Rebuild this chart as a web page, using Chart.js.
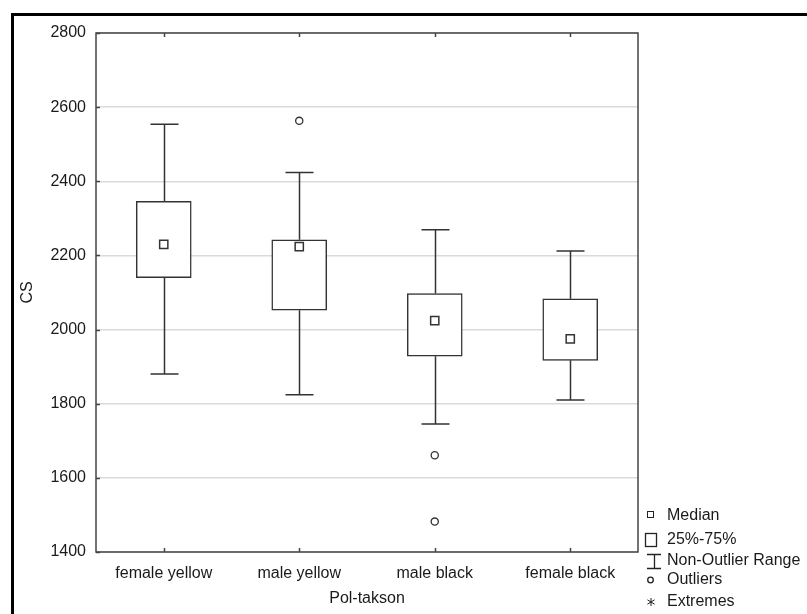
<!DOCTYPE html>
<html>
<head>
<meta charset="utf-8">
<script src="https://cdn.jsdelivr.net/npm/chart.js@4"></script>
<style>
  html, body { margin: 0; padding: 0; background: #fff; }
  #wrap { width: 807px; height: 614px; position: relative; overflow: hidden; }
</style>
</head>
<body>
<div id="wrap"><canvas id="c" width="807" height="614"></canvas></div>
<script>
// Box plot of CS by sex/taxon group
const categories = ['female yellow', 'male yellow', 'male black', 'female black'];
const q1 = [2140, 2052, 1928, 1917];
const q3 = [2346, 2242, 2097, 2083];
const medians = [2230, 2224, 2024, 1975];
const whiskerLow = [1880, 1824, 1745, 1810];
const whiskerHigh = [2554, 2424, 2269, 2212];
const outlierGroups = [[], [2563], [1661, 1482], []];
const yMin = 1400, yMax = 2800, yStep = 200;
const legendLabels = ['Median', '25%-75%', 'Non-Outlier Range', 'Outliers', 'Extremes'];

const FONT = '"Liberation Sans", Arial, Helvetica, sans-serif';
const INK = '#333333';

const outlierPoints = [];
outlierGroups.forEach((vals, i) => vals.forEach(v => outlierPoints.push({ x: categories[i], y: v })));

const boxDecor = {
  id: 'boxDecor',
  beforeDatasetsDraw(chart) {
    const { ctx, scales: { x, y } } = chart;
    ctx.save();
    ctx.strokeStyle = INK;
    ctx.lineWidth = 1.5;
    const capHalf = 14;
    categories.forEach((c, i) => {
      const px = Math.round(x.getPixelForValue(i)) + 0.5;
      const yTop = y.getPixelForValue(q3[i]);
      const yHi = y.getPixelForValue(whiskerHigh[i]);
      const yBot = y.getPixelForValue(q1[i]);
      const yLo = y.getPixelForValue(whiskerLow[i]);
      ctx.beginPath();
      ctx.moveTo(px, yTop); ctx.lineTo(px, yHi);
      ctx.moveTo(px - capHalf, yHi); ctx.lineTo(px + capHalf, yHi);
      ctx.moveTo(px, yBot); ctx.lineTo(px, yLo);
      ctx.moveTo(px - capHalf, yLo); ctx.lineTo(px + capHalf, yLo);
      ctx.stroke();
    });
    ctx.restore();
  },
  afterDraw(chart) {
    const { ctx, chartArea: a, scales: { x, y } } = chart;
    ctx.save();
    // plot frame
    ctx.strokeStyle = '#444';
    ctx.lineWidth = 1.5;
    ctx.strokeRect(a.left, a.top, a.right - a.left, a.bottom - a.top);
    // inward tick marks
    ctx.beginPath();
    y.ticks.forEach(t => {
      const py = Math.round(y.getPixelForValue(t.value)) + 0.5;
      ctx.moveTo(a.left, py); ctx.lineTo(a.left + 4, py);
    });
    categories.forEach((c, i) => {
      const px = Math.round(x.getPixelForValue(i)) + 0.5;
      ctx.moveTo(px, a.bottom); ctx.lineTo(px, a.bottom - 4);
      ctx.moveTo(px, a.top); ctx.lineTo(px, a.top + 4);
    });
    ctx.stroke();

    // legend
    ctx.strokeStyle = '#222';
    ctx.fillStyle = '#1a1a1a';
    ctx.lineWidth = 1;
    ctx.font = '16px ' + FONT;
    ctx.textBaseline = 'middle';
    ctx.textAlign = 'left';
    const tx = 667;
    const rows = [516, 540, 561, 580, 602];
    // median square
    ctx.strokeRect(647.5, 511.5, 6, 6);
    // 25%-75% box
    ctx.lineWidth = 1.3;
    ctx.strokeRect(645.5, 533.5, 11, 13);
    // non-outlier range glyph
    ctx.beginPath();
    ctx.moveTo(647, 554.5); ctx.lineTo(661, 554.5);
    ctx.moveTo(654.5, 554.5); ctx.lineTo(654.5, 568.5);
    ctx.moveTo(647, 568.5); ctx.lineTo(661, 568.5);
    ctx.stroke();
    // outlier circle
    ctx.beginPath();
    ctx.arc(650.5, 580, 2.8, 0, Math.PI * 2);
    ctx.stroke();
    // extremes asterisk
    ctx.lineWidth = 1;
    ctx.beginPath();
    const ax = 651, ay = 602, r = 4;
    ctx.moveTo(ax, ay - r); ctx.lineTo(ax, ay + r);
    ctx.moveTo(ax - r * 0.9, ay - r * 0.55); ctx.lineTo(ax + r * 0.9, ay + r * 0.55);
    ctx.moveTo(ax - r * 0.9, ay + r * 0.55); ctx.lineTo(ax + r * 0.9, ay - r * 0.55);
    ctx.stroke();
    legendLabels.forEach((t, i) => ctx.fillText(t, tx, rows[i]));

    // outer border
    ctx.strokeStyle = '#000';
    ctx.lineWidth = 3;
    ctx.strokeRect(12.5, 14.5, 820, 640);
    ctx.restore();
  }
};

Chart.defaults.font.family = FONT;
Chart.defaults.font.size = 16;
Chart.defaults.color = '#1a1a1a';

new Chart(document.getElementById('c'), {
  type: 'bar',
  data: {
    labels: categories,
    datasets: [
      {
        type: 'bar',
        label: '25%-75%',
        data: categories.map((c, i) => [q1[i], q3[i]]),
        backgroundColor: '#ffffff',
        borderColor: INK,
        borderWidth: 1.5,
        borderSkipped: false,
        barThickness: 55,
        order: 3
      },
      {
        type: 'line',
        label: 'Median',
        data: medians,
        showLine: false,
        pointStyle: 'rect',
        pointRadius: 5.8,
        pointBackgroundColor: '#ffffff',
        pointBorderColor: INK,
        pointBorderWidth: 1.5,
        order: 1
      },
      {
        type: 'line',
        label: 'Outliers',
        data: outlierPoints,
        showLine: false,
        pointStyle: 'circle',
        pointRadius: 3.6,
        pointBackgroundColor: '#ffffff',
        pointBorderColor: INK,
        pointBorderWidth: 1.3,
        order: 2
      }
    ]
  },
  options: {
    responsive: false,
    devicePixelRatio: 1,
    animation: false,
    layout: { padding: { left: 14, right: 169, top: 33, bottom: 0 } },
    plugins: { legend: { display: false }, tooltip: { enabled: false } },
    scales: {
      x: {
        type: 'category',
        offset: true,
        grid: { display: false, drawTicks: false },
        border: { display: false },
        ticks: { padding: 12, maxRotation: 0, autoSkip: false },
        title: { display: true, text: 'Pol-takson', padding: { top: 0, bottom: 6 } },
        afterFit(s) { s.height = 62; }
      },
      y: {
        min: yMin,
        max: yMax,
        grid: { color: '#dadada', lineWidth: 1.5, drawTicks: false },
        border: { display: false },
        ticks: { stepSize: yStep, padding: 10, callback: v => String(v) },
        title: { display: true, text: 'CS', padding: { top: 4, bottom: 0 } },
        afterFit(s) { s.width = 82; }
      }
    }
  },
  plugins: [boxDecor]
});
</script>
</body>
</html>
